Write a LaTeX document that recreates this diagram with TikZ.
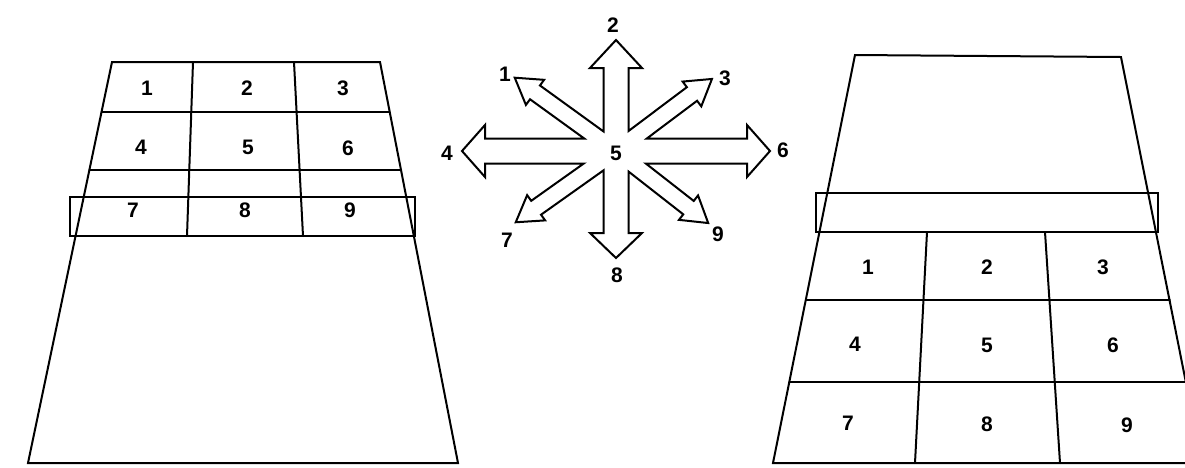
\documentclass[tikz,border=0pt]{standalone}
\usepackage{fontspec}
\setmainfont{Liberation Sans}
\usetikzlibrary{calc}
\tikzset{
  ln/.style={line width=2pt, line join=miter, line cap=round},
  lbl/.style={font=\bfseries\fontsize{21}{21}\selectfont, inner sep=0pt},
}
\begin{document}
\begin{tikzpicture}[x=1pt,y=-1pt]
\useasboundingbox (0,0) rectangle (1185,467);
\clip (0,0) rectangle (1185,467);
\fill[white] (0,0) rectangle (1185,467);

% ---------- left figure ----------
\draw[ln] (112,62) -- (380,62) -- (458,463) -- (28,463) -- cycle;
\draw[ln] (101.5,112) -- (389.7,112);
\draw[ln] (89.4,170) -- (401,170);
\draw[ln] (70,197) rectangle (415,236);
\draw[ln] (193,62) -- (187,236);
\draw[ln] (294,62) -- (303,236);
\node[lbl] (L1) at (147,88) {1};
\node[lbl] (L2) at (247,88) {2};
\node[lbl] (L3) at (343,88) {3};
\node[lbl] (L4) at (141,147) {4};
\node[lbl] (L5) at (248,147) {5};
\node[lbl] (L6) at (348,148) {6};
\node[lbl] (L7) at (133,210) {7};
\node[lbl] (L8) at (245,210) {8};
\node[lbl] (L9) at (350,210) {9};

% ---------- right figure ----------
\draw[ln] (855,55) -- (1121,57) -- (1202,463) -- (773,463) -- cycle;
\draw[ln] (816,193) rectangle (1158,232);
\draw[ln] (805.8,300) -- (1169.8,300);
\draw[ln] (789.3,382) -- (1186,382);
\draw[ln] (927,232) -- (915,463);
\draw[ln] (1045,232) -- (1060,463);
\node[lbl] (R1) at (868,267) {1};
\node[lbl] (R2) at (987,267) {2};
\node[lbl] (R3) at (1103,267) {3};
\node[lbl] (R4) at (855,344) {4};
\node[lbl] (R5) at (987,345) {5};
\node[lbl] (R6) at (1113,345) {6};
\node[lbl] (R7) at (848,423) {7};
\node[lbl] (R8) at (987,424) {8};
\node[lbl] (R9) at (1127,425) {9};

% ---------- star of arrows ----------
\coordinate (C) at (616,151);
\foreach \n/\a/\w/\b/\h/\t in {6/0/12.5/131/26/154, 9/38/8.5/92/15.5/117,
   8/90/12.5/82/26/107, 7/144.6/8.5/98/15.5/123, 4/180/12.5/131/26/154,
   1/215.9/8.5/100/15.5/125, 2/270/12.5/83/26/111, 3/323.1/8.5/95/15.5/120}{
  \coordinate (A\n m0) at ($(C)+(\a-90:\w)$);
  \coordinate (A\n m1) at ($(C)+(\a:\b)+(\a-90:\w)$);
  \coordinate (A\n m2) at ($(C)+(\a:\b)+(\a-90:\h)$);
  \coordinate (A\n t) at ($(C)+(\a:\t)$);
  \coordinate (A\n p2) at ($(C)+(\a:\b)+(\a+90:\h)$);
  \coordinate (A\n p1) at ($(C)+(\a:\b)+(\a+90:\w)$);
  \coordinate (A\n p0) at ($(C)+(\a+90:\w)$);
}
\foreach \x/\y in {6/9,9/8,8/7,7/4,4/1,1/2,2/3,3/6}{
  \coordinate (V\x\y) at (intersection of A\x p0--A\x p1 and A\y m0--A\y m1);
}
\draw[ln, line cap=butt]
  (V36) -- (A6m1) -- (A6m2) -- (A6t) -- (A6p2) -- (A6p1) -- (V69)
  -- (A9m1) -- (A9m2) -- (A9t) -- (A9p2) -- (A9p1) -- (V98)
  -- (A8m1) -- (A8m2) -- (A8t) -- (A8p2) -- (A8p1) -- (V87)
  -- (A7m1) -- (A7m2) -- (A7t) -- (A7p2) -- (A7p1) -- (V74)
  -- (A4m1) -- (A4m2) -- (A4t) -- (A4p2) -- (A4p1) -- (V41)
  -- (A1m1) -- (A1m2) -- (A1t) -- (A1p2) -- (A1p1) -- (V12)
  -- (A2m1) -- (A2m2) -- (A2t) -- (A2p2) -- (A2p1) -- (V23)
  -- (A3m1) -- (A3m2) -- (A3t) -- (A3p2) -- (A3p1) -- cycle;
\node[lbl] (S5) at (616,153) {5};
\node[lbl] (S2) at (613,25) {2};
\node[lbl] (S1) at (505,74) {1};
\node[lbl] (S3) at (725,78) {3};
\node[lbl] (S4) at (447,153) {4};
\node[lbl] (S6) at (783,150) {6};
\node[lbl] (S7) at (507,240) {7};
\node[lbl] (S9) at (718,234) {9};
\node[lbl] (S8) at (617,275) {8};
\end{tikzpicture}
\end{document}
